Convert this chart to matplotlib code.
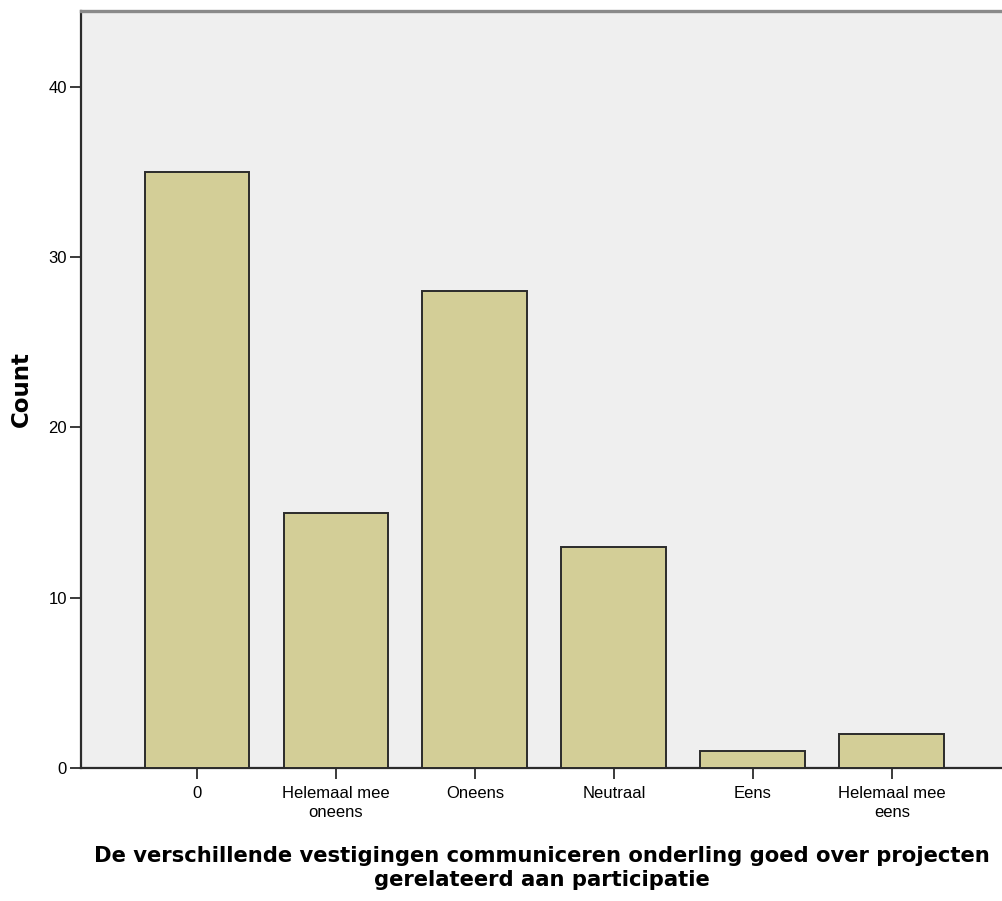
import matplotlib
matplotlib.use("Agg")
import matplotlib.pyplot as plt

categories = ["0", "Helemaal mee\noneens", "Oneens", "Neutraal", "Eens", "Helemaal mee\neens"]
counts = [35, 15, 28, 13, 1, 2]
yticks = [0, 10, 20, 30, 40]

fig = plt.figure(figsize=(10.03, 9.01), dpi=100)
ax = fig.add_axes([81 / 1003, 133 / 901, 1 - 81 / 1003, (768 - 11) / 901])
ax.set_facecolor("#EFEFEF")

x = list(range(len(categories)))
ax.bar(x, counts, width=0.755, color="#D3CE97", edgecolor="#2b2b2b", linewidth=1.4, zorder=3)

ax.set_xlim(-0.835, 5.8)
ax.set_ylim(0, 44.46)
ax.set_xticks(x)
ax.set_xticklabels(categories, fontfamily="Liberation Sans", fontsize=12, linespacing=1.3)
ax.set_yticks(yticks)
ax.set_yticklabels([str(v) for v in yticks], fontfamily="Liberation Sans", fontsize=12)

ax.tick_params(axis="x", length=8, width=1.3, color="#2b2b2b", pad=5)
ax.tick_params(axis="y", length=8, width=1.3, color="#2b2b2b", pad=2)

for side in ["left", "bottom"]:
    ax.spines[side].set_color("#2b2b2b")
    ax.spines[side].set_linewidth(1.6)
ax.spines["top"].set_color("#8a8a8a")
ax.spines["top"].set_linewidth(2.4)
ax.spines["right"].set_visible(False)

ax.set_ylabel("Count", fontfamily="DejaVu Sans", fontweight="bold", fontsize=16.5, labelpad=11)
ax.set_xlabel("De verschillende vestigingen communiceren onderling goed over projecten\ngerelateerd aan participatie",
              fontfamily="DejaVu Sans", fontweight="bold", fontsize=15.2, labelpad=19, linespacing=1.25)

fig.savefig("out.png", dpi=100, facecolor="white")
